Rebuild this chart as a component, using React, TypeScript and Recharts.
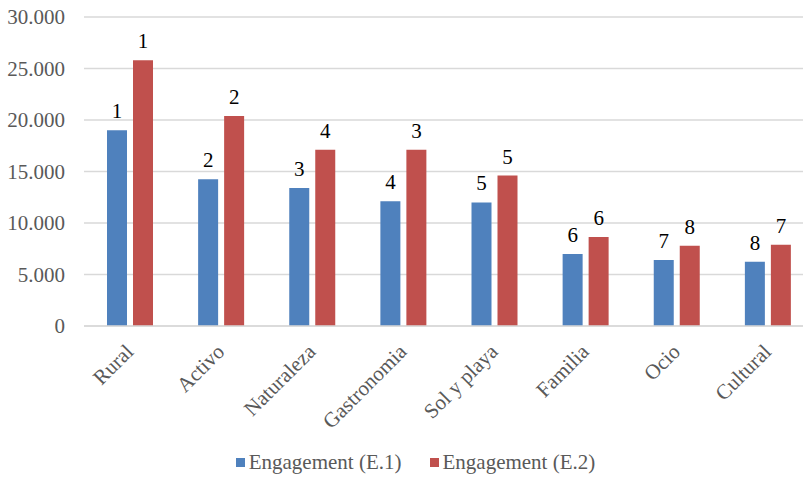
import { BarChart, Bar, XAxis, YAxis, CartesianGrid, Legend, LabelList } from 'recharts';

const categories = ['Rural', 'Activo', 'Naturaleza', 'Gastronomia', 'Sol y playa', 'Familia', 'Ocio', 'Cultural'];
const engagementE1 = [19000, 14250, 13400, 12100, 12000, 7000, 6400, 6250];
const engagementE2 = [25800, 20400, 17100, 17100, 14600, 8650, 7800, 7900];
const rankE1 = [1, 2, 3, 4, 5, 6, 7, 8];
const rankE2 = [1, 2, 4, 3, 5, 6, 8, 7];
const yTicks = [0, 5000, 10000, 15000, 20000, 25000, 30000];

const BLUE = '#4f81bd';
const RED = '#c0504d';
const GREY_TEXT = '#595959';
const FONT = 'Liberation Serif, DejaVu Serif, serif';
const FONT_SIZE = 21;

const data = categories.map((name, i) => ({
  name,
  e1: engagementE1[i],
  e2: engagementE2[i],
  r1: rankE1[i],
  r2: rankE2[i],
}));

const formatThousands = (v: number) => String(v).replace(/\B(?=(\d{3})+(?!\d))/g, '.');

const SlantedTick = (props: any) => {
  const { x, y, payload } = props;
  return (
    <g transform={`translate(${x + 5},${y + 19})`}>
      <text textAnchor="end" transform="rotate(-45)" fill={GREY_TEXT} style={{ fontFamily: FONT, fontSize: FONT_SIZE }}>
        {payload.value}
      </text>
    </g>
  );
};

const ValueTick = (props: any) => {
  const { x, y, payload } = props;
  return (
    <text x={x} y={y} dy={7} textAnchor="end" fill={GREY_TEXT} style={{ fontFamily: FONT, fontSize: FONT_SIZE }}>
      {formatThousands(payload.value)}
    </text>
  );
};

// rank number drawn above each bar
const RankLabel = (props: any) => {
  const { x, y, width, value } = props;
  return (
    <text x={x + width / 2} y={y - 12} textAnchor="middle" fill="#000" style={{ fontFamily: FONT, fontSize: FONT_SIZE }}>
      {value}
    </text>
  );
};

const LegendRow = () => (
  <div
    style={{
      display: 'flex',
      justifyContent: 'center',
      alignItems: 'center',
      gap: 28,
      fontFamily: FONT,
      fontSize: FONT_SIZE,
      color: GREY_TEXT,
      paddingLeft: 18,
    }}
  >
    {[
      { label: 'Engagement (E.1)', color: BLUE },
      { label: 'Engagement (E.2)', color: RED },
    ].map((item) => (
      <span key={item.label} style={{ display: 'flex', alignItems: 'center' }}>
        <span style={{ width: 9, height: 9, background: item.color, marginRight: 4 }} />
        {item.label}
      </span>
    ))}
  </div>
);

export default function App() {
  return (
    <div style={{ position: 'absolute', left: 0, top: 0, width: 803, height: 480, overflow: 'hidden', background: '#fff' }}>
      <BarChart
        width={820}
        height={480}
        data={data}
        margin={{ top: 17, right: 7, bottom: 0, left: 0 }}
        barSize={20}
        barGap={6}
      >
        <CartesianGrid vertical={false} stroke="#d9d9d9" strokeWidth={1.5} />
        <XAxis
          dataKey="name"
          interval={0}
          height={124}
          tickLine={false}
          axisLine={{ stroke: '#d9d9d9', strokeWidth: 1.5 }}
          tick={<SlantedTick />}
        />
        <YAxis
          width={84}
          domain={[0, 30000]}
          ticks={yTicks}
          axisLine={false}
          tickLine={false}
          tickSize={0}
          tickMargin={19}
          tick={<ValueTick />}
        />
        <Legend verticalAlign="bottom" height={30} content={<LegendRow />} wrapperStyle={{ bottom: 0 }} />
        <Bar dataKey="e1" fill={BLUE} isAnimationActive={false}>
          <LabelList dataKey="r1" content={<RankLabel />} />
        </Bar>
        <Bar dataKey="e2" fill={RED} isAnimationActive={false}>
          <LabelList dataKey="r2" content={<RankLabel />} />
        </Bar>
      </BarChart>
    </div>
  );
}
